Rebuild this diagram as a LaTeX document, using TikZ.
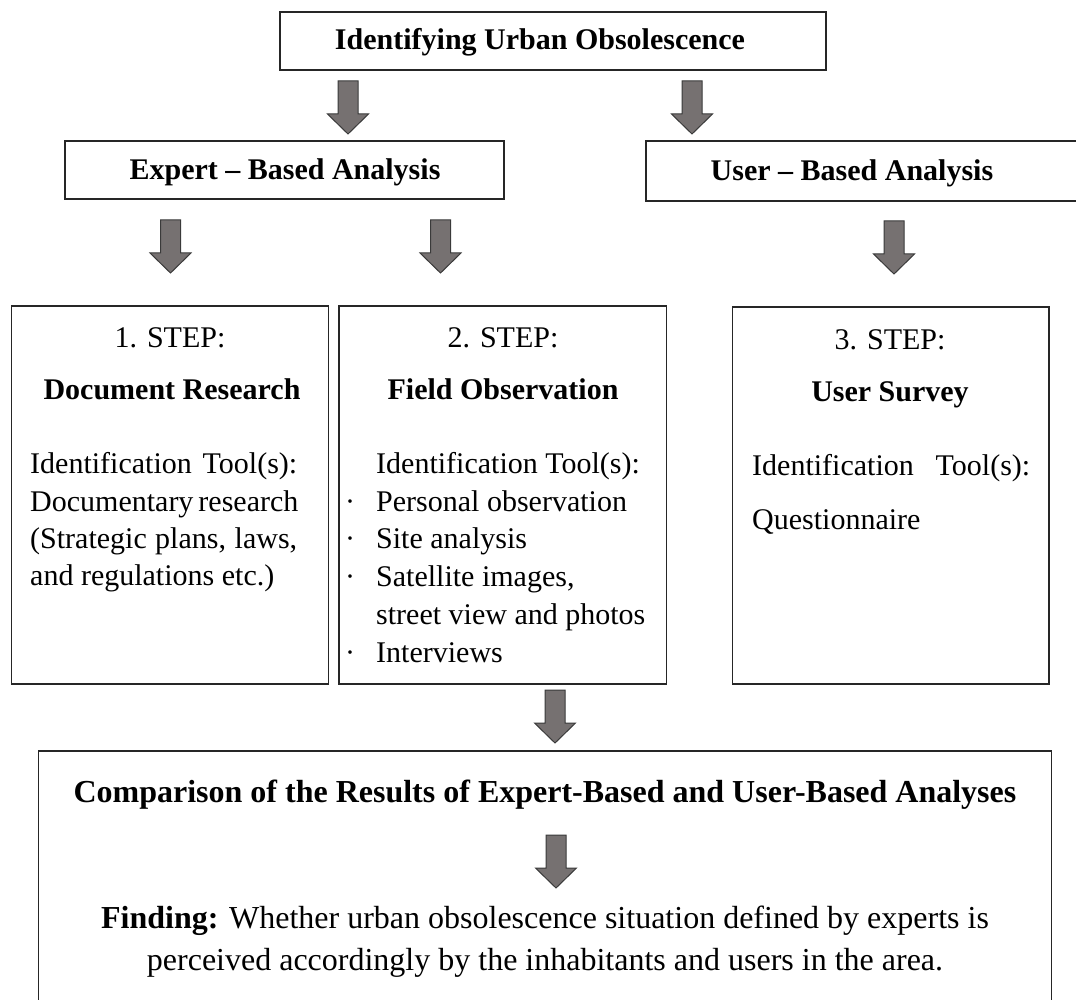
\documentclass[tikz,border=0pt]{standalone}
\usepackage{fontspec}
\setmainfont{Liberation Serif}
\definecolor{arrfill}{HTML}{767171}
\definecolor{arrline}{HTML}{3A3A3A}
\definecolor{boxline}{HTML}{262626}
\tikzset{
  box/.style={draw=boxline, line width=1.1pt, anchor=north west, inner sep=0pt, outer sep=0pt},
  blk/.style={draw=arrline, fill=arrfill, line width=1pt, line join=miter},
  tc/.style={font=\fontsize{30}{36}\selectfont, inner sep=0pt, anchor=base},
  tl/.style={font=\fontsize{30}{36}\selectfont, inner sep=0pt, anchor=base west},
  tb/.style={font=\fontsize{32}{38}\selectfont, inner sep=0pt, anchor=base},
}
% block arrow: #1 name of tip coordinate, #2 position of tip
\newcommand\blockarrow[2]{%
  \coordinate (#1) at (#2);
  \draw[blk] (#1) -- ++(-20.5,-20) -- ++(10.5,0) -- ++(0,-33) -- ++(20,0)
    -- ++(0,33) -- ++(10.5,0) -- cycle;}
\begin{document}
\begin{tikzpicture}[x={(1pt,0)}, y={(0,-1pt)}]
\useasboundingbox[fill=white] (0,0) rectangle (1076,1000);

% top level
\node[box, minimum width=546pt, minimum height=58pt] (top) at (280,12) {};
\node[tc] (topT) at (540,50) {\textbf{Identifying Urban Obsolescence}};

\blockarrow{a1}{348,134}
\blockarrow{a2}{692,134}

% analyses
\node[box, minimum width=439pt, minimum height=58pt] (exp) at (65,141) {};
\node[tc] (expT) at (285,180) {\textbf{Expert -- Based Analysis}};
\node[box, minimum width=439pt, minimum height=60pt] (usr) at (646,141) {};
\node[tc] (usrT) at (852,181) {\textbf{User -- Based Analysis}};

\blockarrow{a3}{170.5,273}
\blockarrow{a4}{440.5,273}
\blockarrow{a5}{894,274}

% step boxes
\node[box, minimum width=317pt, minimum height=378pt] (s1) at (11.5,306) {};
\node[box, minimum width=327.5pt, minimum height=378pt] (s2) at (339,306) {};
\node[box, minimum width=316.5pt, minimum height=377pt] (s3) at (732.5,307) {};

% step 1
\node[tc] (s1h) at (170,347) {1. STEP:};
\node[tc] (s1n) at (172,399) {\textbf{Document Research}};
\node[tl] (s1a) at (30,473) {\makebox[267pt][s]{Identification Tool(s):}};
\node[tl] (s1b) at (30,511) {\makebox[267pt][s]{Documentary research}};
\node[tl] (s1c) at (30,548) {\makebox[267pt][s]{(Strategic plans, laws,}};
\node[tl] (s1d) at (30,585) {and regulations etc.)};

% step 2
\node[tc] (s2h) at (503,347) {2. STEP:};
\node[tc] (s2n) at (503,399) {\textbf{Field Observation}};
\node[tl] (s2a) at (376,473) {Identification Tool(s):};
\node[tl] (s2b0) at (345,511) {·};
\node[tl] (s2b) at (376,511) {Personal observation};
\node[tl] (s2c0) at (345,548) {·};
\node[tl] (s2c) at (376,548) {Site analysis};
\node[tl] (s2d0) at (345,586) {·};
\node[tl] (s2d) at (376,586) {Satellite images,};
\node[tl] (s2e) at (376,624) {street view and photos};
\node[tl] (s2f0) at (345,662) {·};
\node[tl] (s2f) at (376,662) {Interviews};

% step 3
\node[tc] (s3h) at (890,349) {3. STEP:};
\node[tc] (s3n) at (890,401) {\textbf{User Survey}};
\node[tl] (s3a) at (752,475) {\makebox[278pt][s]{Identification Tool(s):}};
\node[tl] (s3b) at (752,529) {Questionnaire};

% bottom
\blockarrow{a6}{555,743}
\node[box, minimum width=1013pt, minimum height=270pt] (res) at (38.7,751) {};
\node[tb] (resT) at (545,802) {\textbf{Comparison of the Results of Expert-Based and User-Based Analyses}};
\blockarrow{a7}{556,888}
\node[tb] (f1) at (545,928) {\textbf{Finding:} Whether urban obsolescence situation defined by experts is};
\node[tb] (f2) at (545,970) {perceived accordingly by the inhabitants and users in the area.};
\end{tikzpicture}
\end{document}
